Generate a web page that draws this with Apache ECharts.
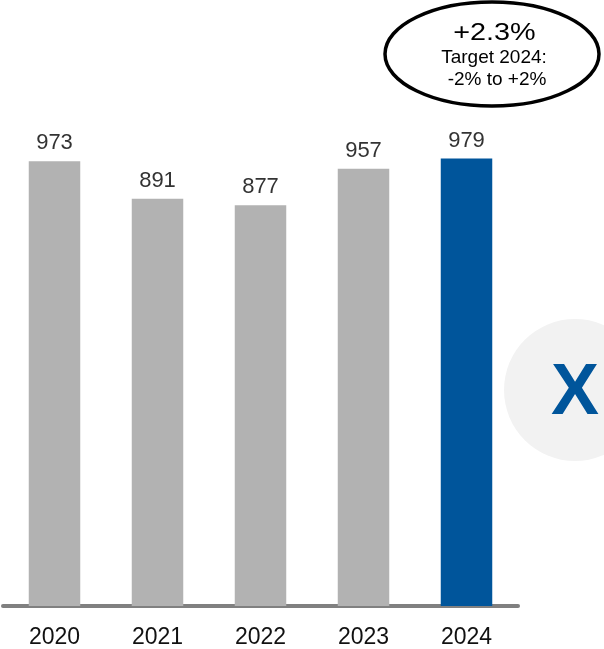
<!DOCTYPE html>
<html>
<head>
<meta charset="utf-8">
<script src="https://cdn.jsdelivr.net/npm/echarts@6/dist/echarts.min.js"></script>
<style>
  html, body { margin: 0; padding: 0; background: #ffffff; }
  #chart { width: 604px; height: 649px; }
</style>
</head>
<body>
<div id="chart"></div>
<script>
// Yearly totals
const years = ['2020', '2021', '2022', '2023', '2024'];
const totals = [973, 891, 877, 957, 979];
const highlightYear = '2024';

// Callout text
const changeText = '+2.3%';
const targetLines = ['Target 2024:', '-2% to +2%'];
const badgeText = 'X';

const GREY = '#b2b2b2';
const BLUE = '#00559b';
const FONT = '"Liberation Sans", Arial, sans-serif';

const chart = echarts.init(document.getElementById('chart'), null, { renderer: 'canvas' });

chart.setOption({
  animation: false,
  backgroundColor: '#ffffff',
  grid: { left: 3, right: 86, top: 149, bottom: 41, containLabel: false },
  xAxis: {
    type: 'category',
    data: years,
    axisTick: { show: false },
    axisLine: { show: true, lineStyle: { color: '#808080', width: 4 } },
    axisLabel: { color: '#111111', fontSize: 23, fontFamily: FONT, margin: 20 }
  },
  yAxis: {
    type: 'value',
    min: 0,
    max: 1000,
    show: false,
    splitLine: { show: false }
  },
  series: [{
    type: 'bar',
    barWidth: '50%',
    data: years.map((y, i) => ({
      value: totals[i],
      itemStyle: { color: y === highlightYear ? BLUE : GREY }
    })),
    label: {
      show: true,
      position: 'top',
      distance: 7,
      color: '#333333',
      fontSize: 22,
      fontFamily: FONT
    }
  }],
  graphic: [
    {
      type: 'ellipse',
      shape: { cx: 492, cy: 54, rx: 107, ry: 52 },
      style: { fill: '#ffffff', stroke: '#000000', lineWidth: 3.5 },
      z: 10
    },
    {
      // headline change, set slightly wide
      type: 'text',
      x: 494.5, y: 33, scaleX: 1.2, scaleY: 1,
      style: {
        x: 0, y: 0, text: changeText, align: 'center', verticalAlign: 'middle',
        fontSize: 24, fontFamily: FONT, fill: '#000000'
      },
      z: 11
    },
    {
      type: 'text',
      style: {
        x: 494, y: 58, text: targetLines[0], align: 'center', verticalAlign: 'middle',
        fontSize: 19, fontFamily: FONT, fill: '#000000'
      },
      z: 11
    },
    {
      type: 'text',
      style: {
        x: 497, y: 80, text: targetLines[1], align: 'center', verticalAlign: 'middle',
        fontSize: 19, fontFamily: FONT, fill: '#000000'
      },
      z: 11
    },
    {
      type: 'circle',
      shape: { cx: 575, cy: 390, r: 71 },
      style: { fill: '#f2f2f2' },
      z: 10
    },
    {
      type: 'text',
      style: {
        x: 575, y: 394, text: badgeText, align: 'center', verticalAlign: 'middle',
        fontSize: 72, fontWeight: 'bold', fontFamily: FONT, fill: BLUE
      },
      z: 11
    }
  ]
});
</script>
</body>
</html>
